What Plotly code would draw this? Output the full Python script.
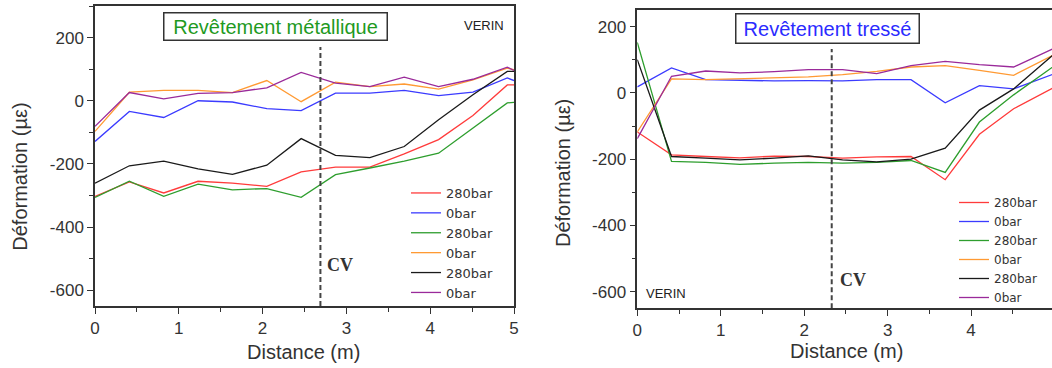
import plotly.graph_objects as go

W, H = 1052, 368

def px(x):
    return x / W

def py(y):
    return 1 - y / H

# ---------------- data ----------------
dist_left = [0, 0.41, 0.82, 1.23, 1.64, 2.05, 2.46, 2.87, 3.28, 3.69, 4.10, 4.51, 4.92, 5.0]
met_280_a = [-303, -257, -292, -255, -261, -271, -225, -210, -210, -168, -123, -47, 50, 50]
met_0_a = [-129, -34, -53, 0, -4, -25, -31, 24, 24, 33, 16, 27, 72, 64]
met_280_b = [-306, -255, -303, -264, -282, -278, -306, -234, -213, -191, -166, -86, -7, -5]
met_0_b = [-97, 27, 33, 33, 26, 64, -3, 59, 45, 53, 37, 66, 103, 98]
met_280_c = [-261, -206, -191, -216, -233, -204, -120, -173, -180, -145, -60, 19, 93, 93]
met_0_c = [-81, 26, 6, 23, 26, 41, 90, 56, 45, 75, 45, 68, 106, 96]

dist_right = [0, 0.41, 0.82, 1.23, 1.64, 2.05, 2.46, 2.87, 3.28, 3.69, 4.10, 4.51, 5.0]
tre_280_a = [-118, -187, -192, -196, -191, -192, -197, -193, -192, -262, -125, -48, 17]
tre_0_a = [18, 75, 40, 38, 36, 37, 36, 40, 40, -30, 22, 12, 58]
tre_280_b = [152, -207, -210, -216, -212, -210, -212, -210, -204, -240, -88, -6, 82]
tre_0_b = [-118, 42, 40, 43, 46, 48, 55, 65, 78, 82, 68, 53, 116]
tre_280_c = [100, -192, -197, -202, -197, -190, -202, -208, -200, -167, -52, 12, 118]
tre_0_c = [-138, 50, 66, 60, 64, 70, 70, 58, 82, 95, 85, 78, 135]

series_names = ["280bar", "0bar", "280bar", "0bar", "280bar", "0bar"]
series_colors = ["#ff3b3b", "#3b3bff", "#2e9e2e", "#ff9a33", "#1a1a1a", "#9a2a9a"]

cv_left, cv_left_top = 2.69, 170
cv_right, cv_right_top = 2.33, 132
y_bottom = -650

x_ticks = [0, 1, 2, 3, 4, 5]
y_ticks = [-600, -400, -200, 0, 200]
y_ticktext = ["-600", "-400", "-200", "0", "200"]

# ---------------- figure ----------------
fig = go.Figure()

left_series = [met_280_a, met_0_a, met_280_b, met_0_b, met_280_c, met_0_c]
right_series = [tre_280_a, tre_0_a, tre_280_b, tre_0_b, tre_280_c, tre_0_c]

for name, col, ys in zip(series_names, series_colors, left_series):
    fig.add_trace(go.Scatter(x=dist_left, y=ys, mode="lines", name=name,
                             line=dict(color=col, width=1.3),
                             xaxis="x", yaxis="y", legend="legend"))

for name, col, ys in zip(series_names, series_colors, right_series):
    fig.add_trace(go.Scatter(x=dist_right, y=ys, mode="lines", name=name,
                             line=dict(color=col, width=1.3),
                             xaxis="x2", yaxis="y2", legend="legend2"))

fig.add_trace(go.Scatter(x=[cv_left, cv_left], y=[y_bottom, cv_left_top], mode="lines",
                         line=dict(color="#444", width=2, dash="5px,3px"),
                         showlegend=False, xaxis="x", yaxis="y", hoverinfo="skip"))
fig.add_trace(go.Scatter(x=[cv_right, cv_right], y=[y_bottom, cv_right_top], mode="lines",
                         line=dict(color="#444", width=2, dash="5px,3px"),
                         showlegend=False, xaxis="x2", yaxis="y2", hoverinfo="skip"))

tickfont = dict(family="Liberation Sans, Arial", size=17, color="#333")
common = dict(showline=True, linecolor="#333", linewidth=1.5, mirror=True,
              ticks="outside", ticklen=6, tickwidth=1.2, tickcolor="#333",
              showgrid=False, zeroline=False, tickfont=tickfont, automargin=False)

fig.update_layout(
    width=W, height=H,
    margin=dict(l=0, r=0, t=0, b=0),
    paper_bgcolor="white", plot_bgcolor="white",
    xaxis=dict(domain=[px(95), px(514)], range=[0, 5], tickvals=x_ticks, anchor="y",
               minor=dict(dtick=0.5, tick0=0, ticks="outside", ticklen=4, tickcolor="#333"),
               **common),
    yaxis=dict(domain=[py(306), py(6)], range=[y_bottom, 300], tickvals=y_ticks,
               ticktext=y_ticktext, anchor="x",
               minor=dict(dtick=100, tick0=0, ticks="outside", ticklen=4, tickcolor="#333"),
               **common),
    xaxis2=dict(domain=[px(637.3), 1.0], range=[0, 4.97], tickvals=x_ticks, anchor="y2",
                minor=dict(dtick=0.5, tick0=0, ticks="outside", ticklen=4, tickcolor="#333"),
                **common),
    yaxis2=dict(domain=[py(308.3), py(10)], range=[y_bottom, 250], tickvals=y_ticks,
                ticktext=y_ticktext, anchor="x2",
                minor=dict(dtick=100, tick0=0, ticks="outside", ticklen=4, tickcolor="#333"),
                **common),
    legend=dict(x=px(406), y=py(178), xanchor="left", yanchor="top",
                bgcolor="rgba(0,0,0,0)", borderwidth=0, tracegroupgap=0,
                font=dict(family="DejaVu Sans", size=13, color="#333")),
    legend2=dict(x=px(954), y=py(188), xanchor="left", yanchor="top",
                 bgcolor="rgba(0,0,0,0)", borderwidth=0, tracegroupgap=0,
                 font=dict(family="DejaVu Sans", size=12, color="#333")),
)

sans = "Liberation Sans, Arial"
annots = [
    dict(x=px(275.3), y=py(26.9), text="Revêtement métallique", width=220, height=24,
         font=dict(family=sans, size=20, color="#1f9a1f"),
         bordercolor="#333", borderwidth=1.5, borderpad=1, bgcolor="white"),
    dict(x=px(827.3), y=py(28), text="Revêtement tressé", width=180, height=26,
         font=dict(family=sans, size=20, color="#2b2bff"),
         bordercolor="#333", borderwidth=1.5, borderpad=1, bgcolor="white"),
    dict(x=px(483.7), y=py(25.7), text="VERIN", font=dict(family=sans, size=13, color="#222")),
    dict(x=px(666), y=py(293), text="VERIN", font=dict(family=sans, size=13, color="#222")),
    dict(x=px(340), y=py(265), text="<b>CV</b>", font=dict(family="Liberation Serif, Times New Roman", size=18, color="#333")),
    dict(x=px(852.5), y=py(280), text="<b>CV</b>", font=dict(family="Liberation Serif, Times New Roman", size=18, color="#333")),
    dict(x=px(304), y=py(352), text="Distance (m)", font=dict(family=sans, size=20, color="#333")),
    dict(x=px(846.7), y=py(351), text="Distance (m)", font=dict(family=sans, size=20, color="#333")),
    dict(x=px(20), y=py(176.7), text="Déformation (µε)", textangle=-90, font=dict(family=sans, size=20, color="#333")),
    dict(x=px(563), y=py(173), text="Déformation (µε)", textangle=-90, font=dict(family=sans, size=20, color="#333")),
]
for a in annots:
    a.update(xref="paper", yref="paper", showarrow=False, xanchor="center", yanchor="middle")
    fig.add_annotation(**a)

fig.write_html("out.html", config={"displayModeBar": False},
               post_script="document.body.style.margin='0px';document.body.style.overflow='hidden';")
